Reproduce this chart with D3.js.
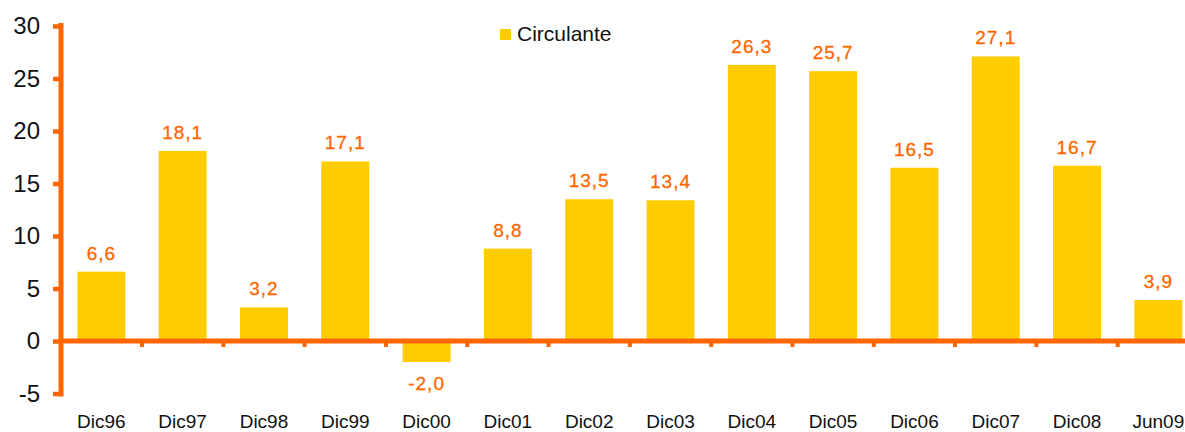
<!DOCTYPE html>
<html>
<head>
<meta charset="utf-8">
<script src="https://cdn.jsdelivr.net/npm/d3@7"></script>
<style>
  body { margin: 0; background: #fff; }
  svg { display: block; font-family: "Liberation Sans", Arial, sans-serif; }
</style>
</head>
<body>
<script>
// Chart data
const categories = ["Dic96", "Dic97", "Dic98", "Dic99", "Dic00", "Dic01", "Dic02",
    "Dic03", "Dic04", "Dic05", "Dic06", "Dic07", "Dic08", "Jun09"];
const circulante = [6.6, 18.1, 3.2, 17.1, -2.0, 8.8, 13.5, 13.4, 26.3, 25.7, 16.5, 27.1, 16.7, 3.9];
const yTicks = [-5, 0, 5, 10, 15, 20, 25, 30];
const seriesName = "Circulante";

const ORANGE = "#FF6600",
    YELLOW = "#FFCC00";

var width = 1185,
    height = 432;

var svg = d3.select("body").append("svg")
    .attr("width", width)
    .attr("height", height);

var x = d3.scaleBand()
    .domain(categories)
    .range([60.7, 1199]) // last band runs past the right edge, as in the original
    .padding(0);

var y = d3.scaleLinear()
    .domain([-5, 30])
    .range([393.5, 26]);

// comma decimal, plain hyphen for negatives
var locale = d3.formatLocale({ decimal: ",", thousands: ".", grouping: [3], currency: ["", ""], minus: "-" });
var fmt = locale.format(".1f");
var barW = x.bandwidth() * 0.59;

// bars
svg.selectAll(".bar")
    .data(circulante)
    .enter().append("rect")
    .attr("class", "bar")
    .attr("x", function(d, i) { return x(categories[i]) + (x.bandwidth() - barW) / 2; })
    .attr("width", barW)
    .attr("y", function(d) { return d > 0 ? y(d) : y(0); })
    .attr("height", function(d) { return Math.abs(y(d) - y(0)); })
    .attr("fill", YELLOW);

// value labels
svg.selectAll(".val")
    .data(circulante)
    .enter().append("text")
    .attr("class", "val")
    .attr("x", function(d, i) { return x(categories[i]) + x.bandwidth() / 2; })
    .attr("y", function(d) { return d >= 0 ? y(d) - 12 : y(d) + 28; })
    .attr("text-anchor", "middle")
    .attr("font-size", 19)
    .attr("letter-spacing", 1)
    .attr("fill", ORANGE)
    .attr("stroke", ORANGE)
    .attr("stroke-width", 0.3)
    .text(function(d) { return fmt(d); });

// x axis: zero line, ticks between categories, labels
svg.append("line")
    .attr("x1", 61).attr("x2", width)
    .attr("y1", y(0)).attr("y2", y(0))
    .attr("stroke", ORANGE)
    .attr("stroke-width", 5);

svg.selectAll(".xtick")
    .data(categories.slice(1))
    .enter().append("line")
    .attr("class", "xtick")
    .attr("x1", function(d) { return x(d); })
    .attr("x2", function(d) { return x(d); })
    .attr("y1", y(0))
    .attr("y2", y(0) + 6)
    .attr("stroke", ORANGE)
    .attr("stroke-width", 4);

svg.selectAll(".xlabel")
    .data(categories)
    .enter().append("text")
    .attr("class", "xlabel")
    .attr("x", function(d) { return x(d) + x.bandwidth() / 2; })
    .attr("y", 428)
    .attr("text-anchor", "middle")
    .attr("font-size", 19)
    .attr("fill", "#111")
    .text(function(d) { return d; });

// y axis
var yAxis = d3.axisLeft(y)
    .tickValues(yTicks)
    .tickSize(8)
    .tickSizeOuter(0)
    .tickPadding(13)
    .tickFormat(locale.format("d"));

var gy = svg.append("g")
    .attr("transform", "translate(61,0)")
    .call(yAxis);

gy.select(".domain").remove();
gy.selectAll(".tick line")
    .attr("stroke", ORANGE)
    .attr("stroke-width", 4.5);
gy.selectAll(".tick text")
    .attr("font-size", 24)
    .attr("font-family", "\"Liberation Sans\", Arial, sans-serif")
    .attr("fill", "#111");

svg.append("line")
    .attr("x1", 61).attr("x2", 61)
    .attr("y1", y(30) - 3).attr("y2", y(-5) + 3)
    .attr("stroke", ORANGE)
    .attr("stroke-width", 5);

// legend
var legend = svg.append("g").attr("transform", "translate(500,29)");
legend.append("rect")
    .attr("width", 11).attr("height", 11)
    .attr("fill", YELLOW);
legend.append("text")
    .attr("x", 17)
    .attr("y", 12)
    .attr("font-size", 21)
    .attr("fill", "#111")
    .text(seriesName);
</script>
</body>
</html>
